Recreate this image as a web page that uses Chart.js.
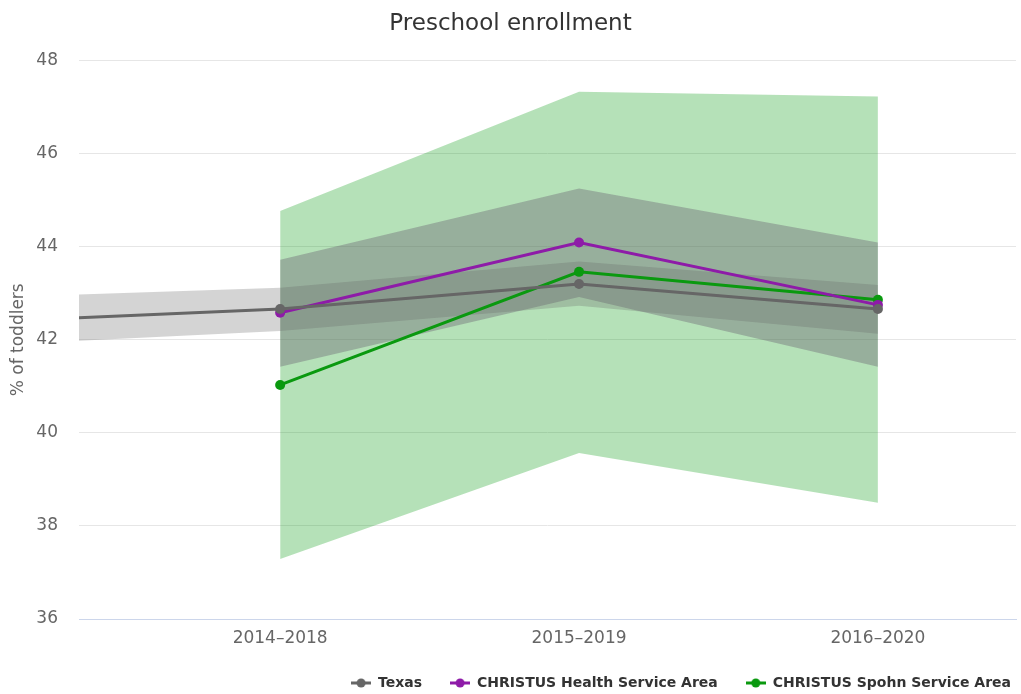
<!DOCTYPE html>
<html>
<head>
<meta charset="utf-8">
<title>Preschool enrollment</title>
<script src="https://cdn.jsdelivr.net/npm/chart.js@4.4.1/dist/chart.umd.min.js"></script>
<style>
  html, body { margin: 0; padding: 0; background: #fff; }
</style>
</head>
<body>
<canvas id="enrollChart" width="1021" height="694"></canvas>
<script>
// periods on the x axis (the first one sits just left of the plot, only Texas has it)
const periods = ['2013–2017', '2014–2018', '2015–2019', '2016–2020'];
const xTicks = [1, 2, 3];
const yTicks = [36, 38, 40, 42, 44, 46, 48];

const texas = [42.38, 42.66, 43.2, 42.66];
const texasLow = [41.88, 42.19, 42.73, 42.13];
const texasHigh = [42.9, 43.12, 43.68, 43.18];

const healthArea = [null, 42.58, 44.09, 42.75];
const healthLow = [null, 41.42, 42.92, 41.42];
const healthHigh = [null, 43.72, 45.25, 44.09];

const spohnArea = [null, 41.03, 43.46, 42.86];
const spohnLow = [null, 37.29, 39.57, 38.5];
const spohnHigh = [null, 44.77, 47.33, 47.23];

const seriesNames = ['Texas', 'CHRISTUS Health Service Area', 'CHRISTUS Spohn Service Area'];
const lineColors = ['#666666', '#8e1ba8', '#0a990f'];

const fontFamily = '"DejaVu Sans", "Open Sans", sans-serif';

const toPoints = (arr) => arr
  .map((v, i) => (v == null ? null : { x: i, y: v }))
  .filter(p => p !== null);

const lineSet = (label, values, color, order) => ({
  label: label,
  data: toPoints(values),
  borderColor: color,
  backgroundColor: color,
  borderWidth: 3,
  pointRadius: 5,
  pointBorderWidth: 0,
  pointBackgroundColor: color,
  fill: false,
  tension: 0,
  order: order
});

// a band is an invisible upper edge plus a lower edge filled up to it
const bandSets = (label, high, low, color, order) => [
  {
    label: label + ' high',
    data: toPoints(high),
    borderWidth: 0,
    borderColor: 'rgba(0,0,0,0)',
    pointRadius: 0,
    fill: false,
    order: order
  },
  {
    label: label + ' low',
    data: toPoints(low),
    borderWidth: 0,
    borderColor: 'rgba(0,0,0,0)',
    backgroundColor: color,
    pointRadius: 0,
    fill: '-1',
    order: order
  }
];

function legendMarker(color) {
  const c = document.createElement('canvas');
  c.width = 20;
  c.height = 10;
  const g = c.getContext('2d');
  g.strokeStyle = color;
  g.lineWidth = 3;
  g.beginPath();
  g.moveTo(0, 5);
  g.lineTo(20, 5);
  g.stroke();
  g.fillStyle = color;
  g.beginPath();
  g.arc(10, 5, 4.5, 0, Math.PI * 2);
  g.fill();
  return c;
}

// nudge the legend so it sits on the right edge like the original
const legendNudge = {
  id: 'legendNudge',
  afterLayout(chart, args, opts) {
    const lg = chart.legend;
    lg.left += opts.dx;
    lg.right += opts.dx;
    lg.top += opts.dy;
    lg.bottom += opts.dy;
  }
};

const datasets = [
  lineSet(seriesNames[0], texas, lineColors[0], 1),
  lineSet(seriesNames[1], healthArea, lineColors[1], 2),
  lineSet(seriesNames[2], spohnArea, lineColors[2], 3),
  ...bandSets('Texas', texasHigh, texasLow, 'rgba(102,102,102,0.28)', 4),
  ...bandSets('Health', healthHigh, healthLow, 'rgba(108,100,114,0.4)', 5),
  ...bandSets('Spohn', spohnHigh, spohnLow, 'rgba(10,155,20,0.3)', 6)
];

const ctx = document.getElementById('enrollChart').getContext('2d');
const chart = new Chart(ctx, {
  type: 'line',
  data: { datasets: datasets },
  plugins: [legendNudge],
  options: {
    responsive: false,
    animation: false,
    layout: { padding: { left: 0, right: 0, top: 0, bottom: 0 } },
    scales: {
      x: {
        type: 'linear',
        min: 0.327,
        max: 3.462,
        afterBuildTicks: (s) => { s.ticks = xTicks.map(v => ({ value: v })); },
        afterFit: (s) => { s.height = 30; },
        ticks: {
          callback: (v) => periods[v],
          font: { family: fontFamily, size: 17 },
          color: '#666666',
          padding: 1,
          maxRotation: 0
        },
        grid: { display: false },
        border: { display: true, color: '#ccd6eb', width: 1 }
      },
      y: {
        min: 36,
        max: 48,
        afterBuildTicks: (s) => { s.ticks = yTicks.map(v => ({ value: v })); },
        afterFit: (s) => { s.width = 79; },
        ticks: {
          font: { family: fontFamily, size: 17 },
          color: '#666666',
          padding: 21
        },
        grid: {
          color: (c) => (c.tick && c.tick.value === 36 ? '#ccd6eb' : '#e6e6e6'),
          drawTicks: false
        },
        border: { display: false },
        title: {
          display: true,
          text: '% of toddlers',
          font: { family: fontFamily, size: 17 },
          color: '#666666',
          padding: { top: 8, bottom: 8 }
        }
      }
    },
    plugins: {
      title: {
        display: true,
        text: 'Preschool enrollment',
        font: { family: fontFamily, size: 23, weight: 'normal' },
        color: '#333333',
        padding: { top: 10, bottom: 23 }
      },
      legend: {
        position: 'bottom',
        align: 'end',
        maxHeight: 45,
        labels: {
          usePointStyle: true,
          pointStyleWidth: 20,
          padding: 28,
          color: '#333333',
          font: { family: fontFamily, size: 14, weight: 'bold' },
          generateLabels: () => seriesNames.map((name, i) => ({
            text: name,
            fillStyle: lineColors[i],
            strokeStyle: lineColors[i],
            lineWidth: 0,
            pointStyle: legendMarker(lineColors[i]),
            hidden: false,
            datasetIndex: i,
            fontColor: '#333333'
          }))
        }
      },
      legendNudge: { dx: 18, dy: -1 },
      tooltip: { enabled: false }
    }
  }
});
</script>
</body>
</html>
